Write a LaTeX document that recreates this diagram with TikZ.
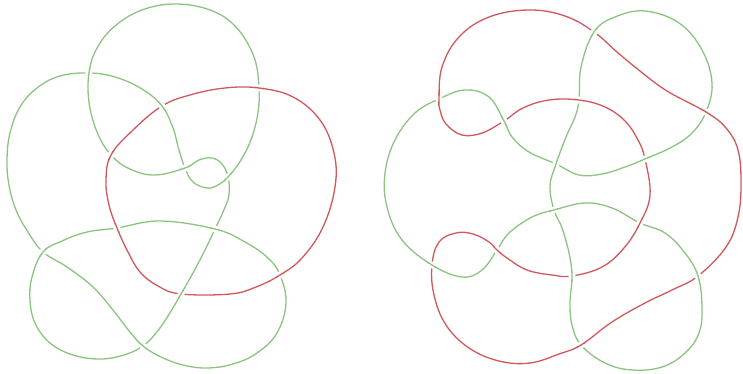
\documentclass[tikz,border=0pt]{standalone}
\usepackage{tikz}
\definecolor{knotgreen}{RGB}{138,196,128}
\definecolor{knotred}{RGB}{208,88,92}
\newcommand{\knottension}{0.65}
% tramo de encima en un cruce
\newcommand{\overpass}[3]{%
  \fill[white] (#1) circle (3.6pt);
  \begin{scope}
    \clip (#1) circle (5.5pt);
    \draw[#2] plot[smooth, tension=\knottension] coordinates {#3};
  \end{scope}}

\begin{document}
\begin{tikzpicture}[x=1pt,y=-1pt,
  greenstrand/.style={knotgreen,line width=1.3pt,line cap=round,line join=round},
  redstrand/.style={knotred,line width=1.3pt,line cap=round,line join=round}]
  \useasboundingbox (0,0) rectangle (743,374);
  % cruces, enlace izquierdo
  \coordinate (c1) at (89,73);   \coordinate (c2) at (162,106);
  \coordinate (c3) at (259,88);  \coordinate (c4) at (111,155);
  \coordinate (c5) at (185,168); \coordinate (c6) at (228,177);
  \coordinate (c7) at (117,228); \coordinate (c8) at (215,229);
  \coordinate (c9) at (43,252);  \coordinate (c10) at (181,294);
  \coordinate (c11) at (280,275); \coordinate (c12) at (143,346);
  % nudo verde izquierdo
  \draw[greenstrand] plot[smooth cycle, tension=\knottension] coordinates {
    (c1) (115,77) (142,89) (c2) (173,128) (179,150) (c5) (193,182) (207,188)
    (218,185) (c6) (241,160) (252,137) (258,112) (c3) (254,57) (236,27)
    (210,10) (175,4) (142,10) (115,26) (97,48) (c1) (89,102) (97,132) (c4)
    (130,169) (155,175) (c5) (199,160) (212,158) (222,164) (c6) (229,195)
    (223,212) (c8) (205,250) (193,273) (c10) (168,316) (156,333) (c12)
    (124,355) (100,359) (73,355) (50,343) (35,323) (30,300) (32,277) (c9)
    (62,241) (87,232) (c7) (160,221) (c8) (245,242) (268,258) (c11)
    (286,303) (277,333) (257,353) (233,364) (207,368) (183,365) (161,357)
    (c12) (130,332) (113,310) (93,287) (67,267) (c9) (28,232) (16,210)
    (9,185) (7,160) (10,133) (20,107) (37,88) (60,76)};
  % anillo rojo izquierdo
  \draw[redstrand] plot[smooth cycle, tension=\knottension] coordinates {
    (c4) (133,130) (c2) (190,95) (225,88) (c3) (293,97) (320,120) (334,153)
    (335,187) (323,227) (302,258) (c11) (256,287) (230,294) (c10) (158,286)
    (140,272) (128,252) (c7) (109,205) (106,180)};
  \overpass{c1}{greenstrand}{(115,26) (97,48) (c1) (89,102) (97,132)}
  \overpass{c2}{greenstrand}{(115,77) (142,89) (c2) (173,128) (179,150)}
  \overpass{c3}{redstrand}{(190,95) (225,88) (c3) (293,97) (320,120)}
  \overpass{c4}{redstrand}{(109,205) (106,180) (c4) (133,130) (c2)}
  \overpass{c5}{greenstrand}{(130,169) (155,175) (c5) (199,160) (212,158)}
  \overpass{c6}{greenstrand}{(207,188) (218,185) (c6) (241,160) (252,137)}
  \overpass{c7}{redstrand}{(140,272) (128,252) (c7) (109,205) (106,180)}
  \overpass{c8}{greenstrand}{(c7) (160,221) (c8) (245,242) (268,258)}
  \overpass{c9}{greenstrand}{(30,300) (32,277) (c9) (62,241) (87,232)}
  \overpass{c10}{greenstrand}{(205,250) (193,273) (c10) (168,316) (156,333)}
  \overpass{c11}{redstrand}{(323,227) (302,258) (c11) (256,287) (230,294)}
  \overpass{c12}{greenstrand}{(183,365) (161,357) (c12) (130,332) (113,310)}

  % cruces, enlace derecho
  \coordinate (rA) at (439,99);  \coordinate (r1) at (594,32);
  \coordinate (r2) at (706,112); \coordinate (r3) at (698,276);
  \coordinate (r4) at (581,345); \coordinate (r5) at (432,265);
  \coordinate (r6) at (497,250); \coordinate (r7) at (572,276);
  \coordinate (r8) at (640,223); \coordinate (r9) at (645,159);
  \coordinate (r10) at (579,100); \coordinate (r11) at (504,121);
  \coordinate (s1) at (556,164); \coordinate (s2) at (554,210);
  % nudo rojo derecho
  \draw[redstrand] plot[smooth cycle, tension=\knottension] coordinates {
    (rA) (442,67) (459,37) (489,17) (529,10) (565,16) (r1) (617,52) (640,71)
    (667,91) (r2) (726,128) (738,150) (741,183) (738,217) (726,247) (r3)
    (672,290) (645,303) (612,322) (r4) (559,354) (530,363) (499,361)
    (469,348) (446,325) (434,295) (r5) (439,242) (456,233) (473,234)
    (489,242) (r6) (507,258) (527,270) (552,275) (r7) (602,267) (624,248)
    (r8) (650,195) (r9) (638,140) (625,121) (605,107) (r10) (549,100)
    (523,108) (r11) (482,133) (462,135) (446,124) (440,110)};
  % nudo verde derecho
  \draw[greenstrand] plot[smooth cycle, tension=\knottension] coordinates {
    (r10) (581,67) (r1) (615,17) (645,11) (679,23) (702,50) (712,83) (r2)
    (692,133) (672,147) (r9) (625,167) (602,174) (579,175) (s1) (529,152)
    (512,137) (r11) (489,97) (465,90) (rA) (415,113) (395,140) (385,173)
    (387,207) (402,240) (r5) (462,277) (482,270) (r6) (509,233) (532,217)
    (s2) (585,203) (612,208) (r8) (665,233) (685,253) (r3) (702,307)
    (699,333) (685,353) (662,367) (632,370) (605,363) (r4) (572,325)
    (570,303) (r7) (569,253) (562,228) (s2) (550,186) (s1) (566,137)
    (575,117)};
  \overpass{r10}{redstrand}{(625,121) (605,107) (r10) (549,100) (523,108)}
  \overpass{r1}{greenstrand}{(r10) (581,67) (r1) (615,17) (645,11)}
  \overpass{r2}{redstrand}{(640,71) (667,91) (r2) (726,128) (738,150)}
  \overpass{r9}{greenstrand}{(692,133) (672,147) (r9) (625,167) (602,174)}
  \overpass{s1}{greenstrand}{(s2) (550,186) (s1) (566,137) (575,117)}
  \overpass{r11}{greenstrand}{(529,152) (512,137) (r11) (489,97) (465,90)}
  \overpass{rA}{redstrand}{(446,124) (440,110) (rA) (442,67) (459,37)}
  \overpass{r5}{greenstrand}{(387,207) (402,240) (r5) (462,277) (482,270)}
  \overpass{r6}{redstrand}{(473,234) (489,242) (r6) (507,258) (527,270)}
  \overpass{s2}{greenstrand}{(509,233) (532,217) (s2) (585,203) (612,208)}
  \overpass{r8}{redstrand}{(602,267) (624,248) (r8) (650,195) (r9)}
  \overpass{r3}{greenstrand}{(665,233) (685,253) (r3) (702,307) (699,333)}
  \overpass{r4}{redstrand}{(645,303) (612,322) (r4) (559,354) (530,363)}
  \overpass{r7}{greenstrand}{(572,325) (570,303) (r7) (569,253) (562,228)}
\end{tikzpicture}
\end{document}
